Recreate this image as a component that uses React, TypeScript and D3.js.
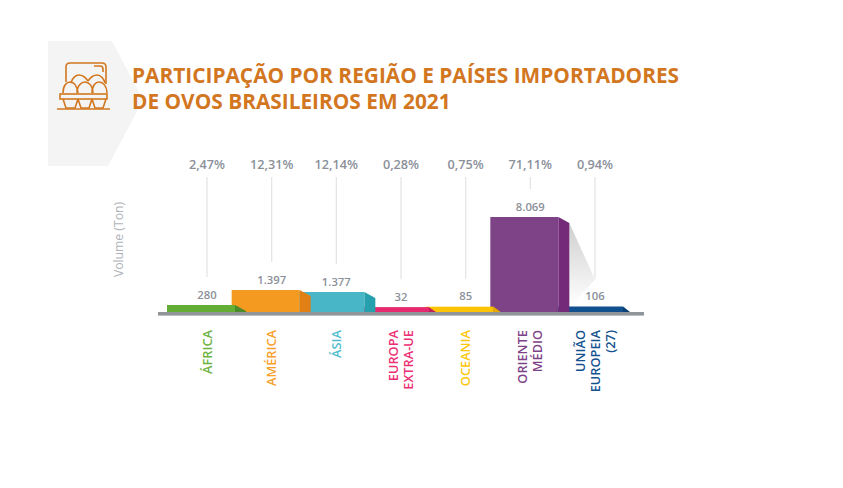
import React from "react";
import * as d3 from "d3";

const regions = [["ÁFRICA"], ["AMÉRICA"], ["ÁSIA"], ["EUROPA", "EXTRA-UE"], ["OCEANIA"], ["ORIENTE", "MÉDIO"], ["UNIÃO", "EUROPEIA", "(27)"]];
const volumes = [280, 1397, 1377, 32, 85, 8069, 106];
const volumeLabels = ["280", "1.397", "1.377", "32", "85", "8.069", "106"];
const shares = ["2,47%", "12,31%", "12,14%", "0,28%", "0,75%", "71,11%", "0,94%"];
const fronts = ["#63ad34", "#f59a20", "#48b6c6", "#e6286e", "#fdc300", "#7e4286", "#11508f"];
const sides = ["#4a8a2a", "#e07f14", "#25a0ac", "#c01f5c", "#e3a900", "#742a79", "#0c3f75"];
const labelColors = ["#6cb33f", "#f9a02a", "#53bdd0", "#ec2f73", "#fdc70c", "#7e4286", "#14528f"];
const titleLines = ["PARTICIPAÇÃO POR REGIÃO E PAÍSES IMPORTADORES", "DE OVOS BRASILEIROS EM 2021"];

const FONT = "'Open Sans', sans-serif";
const base = 312;
const x = d3.scalePoint<number>().domain(d3.range(7)).range([207, 595]);
// the picture's bar heights are not proportional to the values; this follows them
const y = d3.scaleLinear().domain([0, 280, 1377, 1397, 8069]).range([base - 4.6, base - 7, base - 20, base - 22, base - 95]);
const FRONT_W = 68, SIDE_DROP = 6;
const ORANGE = "#d2771f";

export default function App() {
  const order = d3.range(6, -1, -1);
  const purple = 5;
  const pRight = x(purple)! - 40 + FRONT_W + 11;
  const pTop = y(volumes[purple]) + SIDE_DROP;
  return (
    <svg width={843} height={488} style={{ position: "absolute", left: 0, top: 0, background: "#fff" }} fontFamily={FONT}>
      <defs>
        <linearGradient id="sh" x1="0" y1="0" x2="0" y2="1">
          <stop offset="0" stopColor="#cfcfcf" />
          <stop offset="1" stopColor="#ffffff" />
        </linearGradient>
      </defs>
      <polygon points="48,41 112,41 143,100 108,166 48,166" fill="#f4f4f4" />
      <g fill="none" stroke={ORANGE} strokeWidth={1.6}>
        <path d="M66 82 V67 Q66 63 70 63 H102 Q106 63 106 67 V84" />
        <path d="M94 66 H100 Q103 66 103 69 V72" />
        <path d="M71 83 C72 78 76 75 79 75 C83 75 86 78 88 81" />
        <path d="M88 81 C90 78 93 75 97 75 C101 75 104 79 105 83" />
        <path d="M63 93 C63 85 67 82 70 82 C74 82 77 86 78 93" />
        <path d="M77 93 C77 85 82 82 85 82 C89 82 93 86 93 93" />
        <path d="M92 93 C92 85 96 82 99 82 C103 82 107 86 107 93" />
        <rect x={60} y={94} width={47} height={5} />
        <path d="M63 99 L66 108 H75 L78 99 M78 99 L81 108 H89 L92 99 M92 99 L95 108 H103 L106 99" />
        <path d="M57 109 H110" />
      </g>
      <g fill={ORANGE} fontSize={20.85} fontWeight={700}>
        {titleLines.map((t, i) => (
          <text key={t} x={132} y={83 + i * 26}>{t}</text>
        ))}
      </g>
      <text transform="translate(123,239.5) rotate(-90)" textAnchor="middle" fontSize={12.2} fill="#aeb1b6">Volume (Ton)</text>
      <g stroke="#e4e5e7" strokeWidth={1.3}>
        {volumes.map((v, i) => (
          <line key={i} x1={x(i)} x2={x(i)} y1={177} y2={y(v) - 28} />
        ))}
      </g>
      <polygon
        points={`${pRight},${pTop} ${x(6)},${y(volumes[6]) - 27} ${pRight + 2},${base - 6} ${pRight},${base - 6}`}
        fill="url(#sh)"
      />
      {order.map((i) => {
        const top = y(volumes[i]);
        const l = x(i)! - 40;
        const r = l + FRONT_W;
        const h = base - top;
        const drop = Math.min(SIDE_DROP, h);
        const sideW = h < 6.5 ? 7 : 11;
        return (
          <g key={i}>
            <polygon points={`${r},${top} ${r + sideW},${top + drop} ${r + sideW},${base} ${r},${base}`} fill={sides[i]} />
            <rect x={l} y={top} width={FRONT_W} height={h} fill={fronts[i]} />
          </g>
        );
      })}
      <rect x={158} y={base} width={486} height={3.6} fill="#8f9599" />
      <g fontWeight={600} fill="#8b9099" textAnchor="middle">
        {shares.map((s, i) => (
          <text key={s} x={x(i)} y={168.5} fontSize={12.7}>{s}</text>
        ))}
        {volumeLabels.map((s, i) => (
          <text key={s} x={x(i)} y={y(volumes[i]) - 6.5} fontSize={11.3}>{s}</text>
        ))}
      </g>
      <g fontWeight={600} fontSize={12.8}>
        {regions.map((lines, i) => (
          <text
            key={i}
            transform={`translate(${x(i)},330) rotate(-90)`}
            textAnchor="end"
            fill={labelColors[i]}
          >
            {lines.map((t, j) => (
              <tspan key={t} x={0} y={4.5 + (j - (lines.length - 1) / 2) * 15}>{t}</tspan>
            ))}
          </text>
        ))}
      </g>
    </svg>
  );
}
